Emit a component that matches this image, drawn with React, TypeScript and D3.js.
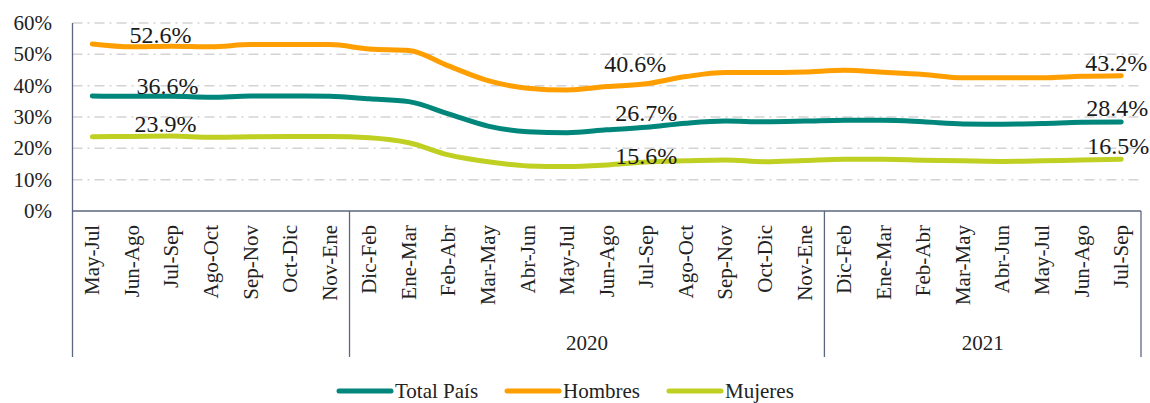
import React, { useEffect, useRef } from 'react';
import * as d3 from 'd3';

const width = 1150;
const height = 403;
const margin = { top: 23, right: 9, bottom: 192, left: 72.5 };

const categories = [
  'May-Jul', 'Jun-Ago', 'Jul-Sep', 'Ago-Oct', 'Sep-Nov', 'Oct-Dic', 'Nov-Ene',
  'Dic-Feb', 'Ene-Mar', 'Feb-Abr', 'Mar-May', 'Abr-Jun', 'May-Jul', 'Jun-Ago', 'Jul-Sep', 'Ago-Oct', 'Sep-Nov', 'Oct-Dic', 'Nov-Ene',
  'Dic-Feb', 'Ene-Mar', 'Feb-Abr', 'Mar-May', 'Abr-Jun', 'May-Jul', 'Jun-Ago', 'Jul-Sep',
];
const groups = [
  { label: '', size: 7 },
  { label: '2020', size: 12 },
  { label: '2021', size: 8 },
];
const totalPais = [36.7, 36.6, 36.6, 36.3, 36.7, 36.7, 36.6, 35.8, 34.9, 31.0, 27.1, 25.3, 25.0, 25.9, 26.7, 28.0, 28.7, 28.5, 28.7, 29.0, 29.0, 28.5, 27.8, 27.7, 27.9, 28.3, 28.4];
const hombres = [53.3, 52.4, 52.6, 52.4, 53.1, 53.1, 53.1, 51.7, 51.2, 46.3, 41.6, 39.2, 38.6, 39.7, 40.6, 42.9, 44.2, 44.2, 44.4, 44.9, 44.3, 43.6, 42.5, 42.5, 42.5, 43.0, 43.2];
const mujeres = [23.7, 23.8, 23.9, 23.5, 23.7, 23.8, 23.8, 23.4, 21.8, 17.9, 15.7, 14.4, 14.2, 14.7, 15.6, 16.0, 16.3, 15.7, 16.1, 16.5, 16.5, 16.2, 16.0, 15.8, 16.0, 16.3, 16.5];
const yTicks = [0, 10, 20, 30, 40, 50, 60];

const series = [
  { name: 'Total País', values: totalPais, color: '#00867b' },
  { name: 'Hombres', values: hombres, color: '#ff9e00' },
  { name: 'Mujeres', values: mujeres, color: '#c0d022' },
];

// which points get a value label, and how far Excel nudged them
const labeled = [
  { s: 1, i: 2, dx: -11, dy: -3 },
  { s: 0, i: 2, dx: -4, dy: -2 },
  { s: 2, i: 2, dx: -6, dy: -4 },
  { s: 1, i: 14, dx: -11, dy: -12 },
  { s: 0, i: 14, dx: 0, dy: -6 },
  { s: 2, i: 14, dx: 0, dy: 2 },
  { s: 1, i: 26, dx: -5, dy: -5 },
  { s: 0, i: 26, dx: -4, dy: -6 },
  { s: 2, i: 26, dx: -3, dy: -5 },
];

const font = '"Liberation Serif", serif';
const axisColor = '#5b6680';

const App = () => {
  const ref = useRef<SVGSVGElement>(null);

  useEffect(() => {
    const svg = d3.select(ref.current);
    svg.selectAll('*').remove();

    const x0 = margin.left;
    const x1 = width - margin.right;
    const yBase = height - margin.bottom;

    const x = d3.scaleBand<number>()
      .domain(categories.map((_, i) => i))
      .range([x0, x1]);
    const cx = (i: number) => (x(i) as number) + x.bandwidth() / 2;

    const y = d3.scaleLinear().domain([0, 60]).range([yBase, margin.top]);

    // gridlines
    svg.append('g')
      .selectAll('line')
      .data(yTicks.filter(t => t > 0))
      .enter()
      .append('line')
      .attr('x1', x0)
      .attr('x2', x1)
      .attr('y1', d => y(d))
      .attr('y2', d => y(d))
      .attr('stroke', '#d3d3d3')
      .attr('stroke-width', 1.5)
      .attr('stroke-dasharray', '10,5,2,5');

    // y tick labels
    svg.append('g')
      .selectAll('text')
      .data(yTicks)
      .enter()
      .append('text')
      .attr('x', 52)
      .attr('y', d => y(d))
      .attr('dy', '0.33em')
      .attr('text-anchor', 'end')
      .attr('font-size', 21)
      .attr('fill', '#222')
      .text(d => d + '%');

    // axes
    svg.append('line')
      .attr('x1', x0).attr('x2', x0)
      .attr('y1', margin.top).attr('y2', yBase)
      .attr('stroke', axisColor).attr('stroke-width', 1.3);
    svg.append('line')
      .attr('x1', x0).attr('x2', x1)
      .attr('y1', yBase).attr('y2', yBase)
      .attr('stroke', axisColor).attr('stroke-width', 1.3);

    // group separators
    let acc = 0;
    const bounds = [0];
    groups.forEach(g => { acc += g.size; bounds.push(acc); });
    svg.append('g')
      .selectAll('line')
      .data(bounds)
      .enter()
      .append('line')
      .attr('x1', d => (d < categories.length ? (x(d) as number) : x1))
      .attr('x2', d => (d < categories.length ? (x(d) as number) : x1))
      .attr('y1', yBase)
      .attr('y2', 357)
      .attr('stroke', axisColor)
      .attr('stroke-width', 1.3);

    // category labels
    svg.append('g')
      .selectAll('text')
      .data(categories)
      .enter()
      .append('text')
      .attr('transform', (d, i) => `translate(${cx(i)},225) rotate(-90)`)
      .attr('dy', '0.33em')
      .attr('text-anchor', 'end')
      .attr('font-size', 21)
      .attr('fill', '#222')
      .text(d => d);

    // year labels
    svg.append('g')
      .selectAll('text')
      .data(groups.map((g, k) => ({ g, k })).filter(d => d.g.label))
      .enter()
      .append('text')
      .attr('x', d => {
        const a = x(bounds[d.k]) as number;
        const b = bounds[d.k + 1] < categories.length ? (x(bounds[d.k + 1]) as number) : x1;
        return (a + b) / 2;
      })
      .attr('y', 350)
      .attr('text-anchor', 'middle')
      .attr('font-size', 21)
      .attr('fill', '#222')
      .text(d => d.g.label);

    // lines
    const line = d3.line<number>()
      .x((d, i) => cx(i))
      .y(d => y(d))
      .curve(d3.curveMonotoneX);

    svg.append('g')
      .selectAll('path')
      .data(series)
      .enter()
      .append('path')
      .attr('d', d => line(d.values))
      .attr('fill', 'none')
      .attr('stroke', d => d.color)
      .attr('stroke-width', 5)
      .attr('stroke-linecap', 'round')
      .attr('stroke-linejoin', 'round');

    // value labels
    svg.append('g')
      .selectAll('text')
      .data(labeled)
      .enter()
      .append('text')
      .attr('x', d => cx(d.i) + d.dx)
      .attr('y', d => y(series[d.s].values[d.i]) + d.dy)
      .attr('text-anchor', 'middle')
      .attr('font-size', 24)
      .attr('fill', '#1a1a1a')
      .text(d => series[d.s].values[d.i].toFixed(1) + '%');

    // legend
    const legendX = [339, 507, 669];
    const legend = svg.append('g')
      .selectAll('g')
      .data(series)
      .enter()
      .append('g')
      .attr('transform', (d, i) => `translate(${legendX[i]},391)`);
    legend.append('line')
      .attr('x1', 0).attr('x2', 52)
      .attr('y1', 0).attr('y2', 0)
      .attr('stroke', d => d.color)
      .attr('stroke-width', 5)
      .attr('stroke-linecap', 'round');
    legend.append('text')
      .attr('x', 56)
      .attr('y', 0)
      .attr('dy', '0.33em')
      .attr('font-size', 21)
      .attr('fill', '#222')
      .text(d => d.name);
  }, []);

  return (
    <svg
      ref={ref}
      width={width}
      height={height}
      style={{ position: 'absolute', left: 0, top: 0, background: '#fff', fontFamily: font }}
    />
  );
};

export default App;
